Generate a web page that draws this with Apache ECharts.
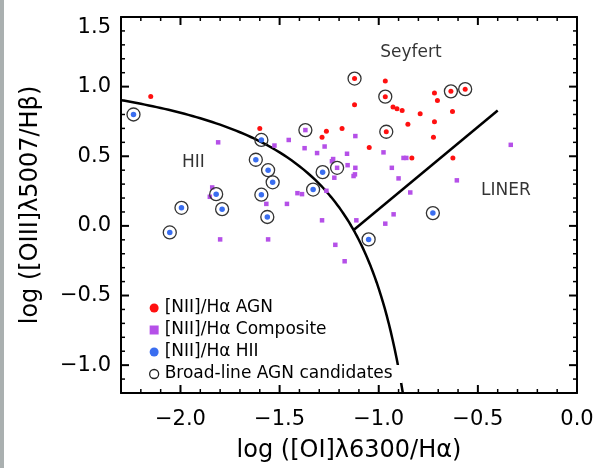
<!DOCTYPE html>
<html>
<head>
<meta charset="utf-8">
<script src="https://cdn.jsdelivr.net/npm/echarts@6/dist/echarts.min.js"></script>
<style>
  html, body { margin: 0; padding: 0; background: #fff; }
  #chart { width: 598px; height: 468px; }
</style>
</head>
<body>
<div id="chart"></div>
<script>
// [OI]/Hα BPT diagram: log([OI]λ6300/Hα) vs log([OIII]λ5007/Hβ)

// Axis ranges and labelled tick positions
const xRange = [-2.3, 0.0];
const yRange = [-1.2, 1.5];
const xMajorTicks = [-2.0, -1.5, -1.0, -0.5, 0.0];
const yMajorTicks = [-1.0, -0.5, 0.0, 0.5, 1.0, 1.5];

// Galaxies classified as AGN on the [NII]/Hα diagram
const agnPoints = [
  [-2.15, 0.93], [-1.60, 0.70], [-1.122, 1.058], [-0.967, 1.04], [-0.967, 0.928],
  [-1.122, 0.869], [-0.928, 0.853], [-0.908, 0.841], [-0.882, 0.829], [-1.264, 0.68],
  [-1.286, 0.636], [-1.185, 0.70], [-0.962, 0.676], [-1.048, 0.563], [-0.719, 0.954],
  [-0.636, 0.966], [-0.564, 0.982], [-0.704, 0.90], [-0.791, 0.806], [-0.628, 0.822],
  [-0.853, 0.73], [-0.719, 0.747], [-0.724, 0.636], [-0.626, 0.488], [-0.833, 0.488]
];

// Composite galaxies on the [NII]/Hα diagram
const compositePoints = [
  [-1.81, 0.60], [-1.526, 0.577], [-1.454, 0.617], [-1.370, 0.688], [-1.374, 0.558],
  [-1.387, 0.228], [-1.41, 0.235], [-1.463, 0.158], [-1.84, 0.276], [-1.852, 0.209],
  [-1.567, 0.158], [-1.80, -0.097], [-1.558, -0.097], [-1.118, 0.645], [-1.273, 0.57],
  [-1.311, 0.523], [-1.16, 0.518], [-0.976, 0.528], [-1.236, 0.464], [-1.23, 0.48],
  [-1.21, 0.417], [-1.157, 0.436], [-1.118, 0.417], [-0.934, 0.417], [-0.875, 0.488],
  [-0.861, 0.488], [-0.334, 0.582], [-0.606, 0.327], [-0.841, 0.24], [-0.925, 0.083],
  [-0.967, 0.016], [-1.113, 0.04], [-1.286, 0.04], [-1.219, -0.136], [-0.90, 0.341],
  [-1.264, 0.252], [-1.224, 0.346], [-1.127, 0.358], [-1.12, 0.37], [-1.172, -0.254]
];

// HII galaxies on the [NII]/Hα diagram
const hiiPoints = [
  [-2.237, 0.80], [-1.592, 0.617], [-1.62, 0.475], [-1.558, 0.40], [-1.535, 0.313],
  [-1.331, 0.261], [-1.82, 0.228], [-1.592, 0.224], [-1.995, 0.13], [-1.79, 0.12],
  [-1.562, 0.064], [-2.054, -0.047], [-1.283, 0.386], [-1.051, -0.097], [-0.727, 0.092]
];

// Broad-line AGN candidates (open circles)
const broadLinePoints = [
  [-2.237, 0.80], [-1.592, 0.617], [-1.62, 0.475], [-1.558, 0.40], [-1.535, 0.313],
  [-1.331, 0.261], [-1.82, 0.228], [-1.592, 0.224], [-1.995, 0.13], [-1.79, 0.12],
  [-1.562, 0.064], [-2.054, -0.047], [-1.283, 0.386], [-1.051, -0.097], [-0.727, 0.092],
  [-1.122, 1.058], [-0.967, 0.928], [-0.962, 0.676], [-0.636, 0.966], [-0.564, 0.982],
  [-1.370, 0.688], [-1.21, 0.417]
];

// Region names and where they sit in data space
const regionNames = ['Seyfert', 'HII', 'LINER'];
const regionPositions = [[-0.838, 1.244], [-1.935, 0.452], [-0.359, 0.252]];

const seriesNames = [
  '[NII]/H\u03b1 AGN',
  '[NII]/H\u03b1 Composite',
  '[NII]/H\u03b1 HII',
  'Broad-line AGN candidates'
];

// Kewley et al. (2006) boundaries for the [OI] diagram
function maxStarburst(x) { return 0.73 / (x + 0.59) + 1.33; }
function seyfertLiner(x) { return 1.18 * x + 1.30; }

const starburstCurve = [];
for (let x = xRange[0]; x < -0.8785; x += 0.01) starburstCurve.push([x, maxStarburst(x)]);
starburstCurve.push([-0.8785, maxStarburst(-0.8785)]);

const seyfertLinerLine = [[-1.125, seyfertLiner(-1.125)], [-0.40, seyfertLiner(-0.40)]];

// Inward tick marks on all four sides: major every 0.5, minor every 0.1
const MAJOR_LEN = 8, MINOR_LEN = 4;
function tickList(lo, hi, majors) {
  const out = [];
  for (let i = Math.round(lo * 10); i <= Math.round(hi * 10); i++) {
    const v = i / 10;
    const isMajor = majors.some(m => Math.abs(m - v) < 1e-9);
    out.push([v, isMajor ? MAJOR_LEN : MINOR_LEN]);
  }
  return out;
}
const xTickData = tickList(xRange[0], xRange[1], xMajorTicks);
const yTickData = tickList(yRange[0], yRange[1], yMajorTicks);

function tickStyle(len) {
  return { stroke: '#000', lineWidth: len === MAJOR_LEN ? 2 : 1.5 };
}
function renderXTick(params, api) {
  const v = api.value(0), len = api.value(1);
  const b = api.coord([v, yRange[0]]), t = api.coord([v, yRange[1]]);
  return {
    type: 'group', children: [
      { type: 'line', shape: { x1: b[0], y1: b[1], x2: b[0], y2: b[1] - len }, style: tickStyle(len) },
      { type: 'line', shape: { x1: t[0], y1: t[1], x2: t[0], y2: t[1] + len }, style: tickStyle(len) }
    ]
  };
}
function renderYTick(params, api) {
  const v = api.value(0), len = api.value(1);
  const l = api.coord([xRange[0], v]), r = api.coord([xRange[1], v]);
  return {
    type: 'group', children: [
      { type: 'line', shape: { x1: l[0], y1: l[1], x2: l[0] + len, y2: l[1] }, style: tickStyle(len) },
      { type: 'line', shape: { x1: r[0], y1: r[1], x2: r[0] - len, y2: r[1] }, style: tickStyle(len) }
    ]
  };
}

const FONT = 'DejaVu Sans';
const fmt = v => (v < 0 ? '\u2212' : '') + Math.abs(v).toFixed(1);
const frameLine = { show: true, onZero: false, lineStyle: { color: '#000', width: 2 } };

const chart = echarts.init(document.getElementById('chart'), null, { renderer: 'canvas' });
chart.setOption({
  backgroundColor: '#fff',
  animation: false,
  grid: { left: 121, right: 21, top: 17, bottom: 70, containLabel: false },
  xAxis: [
    {
      type: 'value', position: 'bottom', min: xRange[0], max: xRange[1],
      axisLine: frameLine, axisTick: { show: false }, splitLine: { show: false },
      axisLabel: {
        show: true, customValues: xMajorTicks, formatter: fmt, color: '#000',
        fontFamily: FONT, fontSize: 21, margin: 16
      },
      name: 'log ([OI]\u03bb6300/H\u03b1)', nameLocation: 'middle', nameGap: 46,
      nameTextStyle: { fontFamily: FONT, fontSize: 24, color: '#000' }
    },
    {
      type: 'value', position: 'top', min: xRange[0], max: xRange[1],
      axisLine: frameLine, axisTick: { show: false }, axisLabel: { show: false }, splitLine: { show: false }
    }
  ],
  yAxis: [
    {
      type: 'value', position: 'left', min: yRange[0], max: yRange[1],
      axisLine: frameLine, axisTick: { show: false }, splitLine: { show: false },
      axisLabel: {
        show: true, customValues: yMajorTicks, formatter: fmt, color: '#000',
        fontFamily: FONT, fontSize: 21, margin: 10, verticalAlignMaxLabel: 'top'
      },
      name: 'log ([OIII]\u03bb5007/H\u03b2)', nameLocation: 'middle', nameGap: 78,
      nameTextStyle: { fontFamily: FONT, fontSize: 24, color: '#000' }
    },
    {
      type: 'value', position: 'right', min: yRange[0], max: yRange[1],
      axisLine: frameLine, axisTick: { show: false }, axisLabel: { show: false }, splitLine: { show: false }
    }
  ],
  graphic: [{
    type: 'rect', left: 0, top: 0, shape: { width: 4, height: 468 },
    style: { fill: '#aab0b0' }, silent: true
  }],
  legend: {
    orient: 'vertical', left: 144, top: 294,
    itemWidth: 9, itemHeight: 9, itemGap: 4, itemStyle: { borderWidth: 0 },
    textStyle: { fontFamily: FONT, fontSize: 17, lineHeight: 18, color: '#000', padding: [0, 0, 0, 1] },
    data: [
      { name: seriesNames[0], icon: 'circle' },
      { name: seriesNames[1], icon: 'rect' },
      { name: seriesNames[2], icon: 'circle' },
      { name: seriesNames[3], icon: 'circle',
        itemStyle: { color: 'transparent', borderColor: '#222', borderWidth: 1.3 },
        textStyle: { backgroundColor: '#fff', padding: [0, 10, 0, 1] } }
    ]
  },
  series: [
    { type: 'custom', data: xTickData, renderItem: renderXTick, silent: true, clip: false, z: 1 },
    { type: 'custom', data: yTickData, renderItem: renderYTick, silent: true, clip: false, z: 1 },
    {
      type: 'line', data: starburstCurve, showSymbol: false, symbol: 'none',
      lineStyle: { color: '#000', width: 2.5 }, silent: true, z: 2
    },
    {
      type: 'line', data: seyfertLinerLine, showSymbol: false, symbol: 'none',
      lineStyle: { color: '#000', width: 2.5 }, silent: true, z: 2
    },
    {
      name: seriesNames[0], type: 'scatter', data: agnPoints,
      symbol: 'circle', symbolSize: 5, itemStyle: { color: '#ff1010', opacity: 1 }, z: 3
    },
    {
      name: seriesNames[1], type: 'scatter', data: compositePoints,
      symbol: 'rect', symbolSize: 4.5, itemStyle: { color: '#b550e8', opacity: 1 }, z: 3
    },
    {
      name: seriesNames[2], type: 'scatter', data: hiiPoints,
      symbol: 'circle', symbolSize: 5.5, itemStyle: { color: '#3a6ef0', opacity: 1 }, z: 4
    },
    {
      name: seriesNames[3], type: 'scatter', data: broadLinePoints,
      symbol: 'circle', symbolSize: 13,
      itemStyle: { color: 'transparent', borderColor: '#333', borderWidth: 1.3, opacity: 1 }, z: 5
    },
    {
      type: 'scatter', symbolSize: 0, silent: true, z: 6,
      data: regionNames.map((n, i) => ({ name: n, value: regionPositions[i] })),
      label: {
        show: true, position: 'inside', formatter: p => p.name,
        fontFamily: FONT, fontSize: 17, color: '#000'
      }
    }
  ]
});
</script>
</body>
</html>
